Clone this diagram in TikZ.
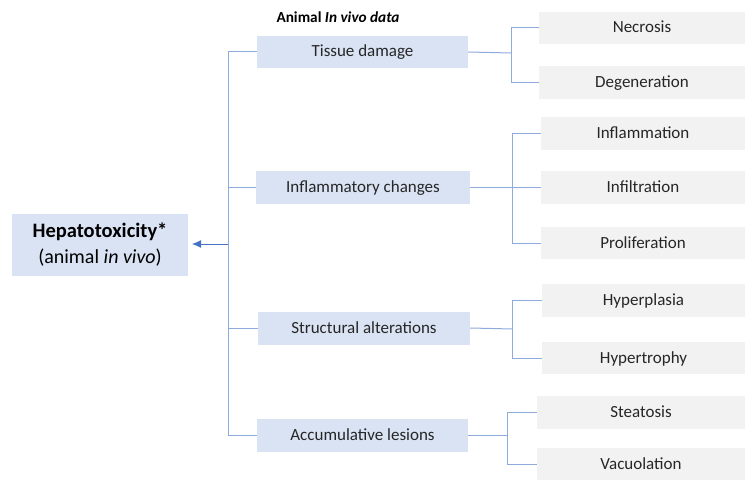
\documentclass[tikz,border=0pt]{standalone}
\usepackage{fontspec}
\setmainfont{Carlito}
\usetikzlibrary{arrows.meta}
\definecolor{bluebox}{HTML}{DAE3F3}
\definecolor{graybox}{HTML}{F2F2F2}
\definecolor{linec}{HTML}{8FAADC}
\definecolor{arrowc}{HTML}{4472C4}
\definecolor{txt}{HTML}{262626}
\begin{document}
\begin{tikzpicture}[x=1pt,y=-1pt,
  catbox/.style={fill=bluebox,draw=none,inner sep=0pt,text=txt,font=\fontsize{17}{20}\selectfont,text height=12pt,text depth=2pt},
  leafbox/.style={fill=graybox,draw=none,inner sep=0pt,text=txt,font=\fontsize{17}{20}\selectfont,text height=12pt,text depth=2pt},
  conn/.style={draw=linec,line width=1pt}]
\useasboundingbox (0,0) rectangle (745,484);
% title
\node[font=\bfseries\fontsize{15.3}{18}\selectfont,anchor=center,text=black] (title) at (338,17) {Animal \textit{In vivo data}};
% main box
\node[fill=bluebox,minimum width=176pt,minimum height=62pt,inner sep=0pt,text=black,align=center,
  font=\fontsize{20}{26}\selectfont] (hep) at (100,245)
  {\raisebox{-2pt}{\bfseries\fontsize{20.5}{26}\selectfont Hepatotoxicity*}\\\raisebox{-2pt}{(animal \textit{in vivo})}};
% category boxes
\node[catbox,minimum width=211pt,minimum height=32pt] (tis) at (362.5,52) {Tissue damage};
\node[catbox,minimum width=214pt,minimum height=33pt] (inf) at (363,187.5) {Inflammatory changes};
\node[catbox,minimum width=212pt,minimum height=33pt] (str) at (364,328) {Structural alterations};
\node[catbox,minimum width=211pt,minimum height=33pt] (acc) at (362.5,435) {Accumulative lesions};
% leaf boxes
\node[leafbox,minimum width=206pt,minimum height=32pt] (nec) at (642,28) {Necrosis};
\node[leafbox,minimum width=206pt,minimum height=33pt] (deg) at (642,82.5) {Degeneration};
\node[leafbox,minimum width=204pt,minimum height=33pt] (infl) at (643,133.5) {Inflammation};
\node[leafbox,minimum width=204pt,minimum height=33pt] (infi) at (643,187.5) {Infiltration};
\node[leafbox,minimum width=204pt,minimum height=32pt] (pro) at (643,243) {Proliferation};
\node[leafbox,minimum width=203pt,minimum height=33pt] (hpl) at (643.5,300.5) {Hyperplasia};
\node[leafbox,minimum width=203pt,minimum height=32pt] (htr) at (643.5,358) {Hypertrophy};
\node[leafbox,minimum width=208pt,minimum height=33pt] (ste) at (641,412.5) {Steatosis};
\node[leafbox,minimum width=208pt,minimum height=32pt] (vac) at (641,464) {Vacuolation};
% main trunk
\coordinate (mt) at (228,52);
\coordinate (mb) at (228,435);
\coordinate (mm) at (228,244);
\coordinate (atip) at (192,244);
\draw[conn] (tis.west) -- (tis.west -| mt) -- (acc.west -| mb) -- (acc.west);
\draw[conn] (inf.west) -- (inf.west -| mt);
\draw[conn] (str.west) -- (str.west -| mt);
\draw[draw=arrowc,line width=1pt,-{Latex[length=9pt,width=8pt]}] (mm) -- (atip);
% tissue damage branch
\coordinate (b1) at (511,53);
\draw[conn] (tis.east) -- (b1);
\draw[conn] (nec.west) -- (nec.west -| b1) -- (deg.west -| b1) -- (deg.west);
% inflammatory branch
\coordinate (b2) at (512,187.5);
\draw[conn] (inf.east) -- (infi.west);
\draw[conn] (infl.west) -- (infl.west -| b2) -- (pro.west -| b2) -- (pro.west);
% structural branch
\coordinate (b3) at (512,329);
\draw[conn] (str.east) -- (b3);
\draw[conn] (hpl.west) -- (hpl.west -| b3) -- (htr.west -| b3) -- (htr.west);
% accumulative branch
\coordinate (b4) at (507,435);
\draw[conn] (acc.east) -- (b4);
\draw[conn] (ste.west) -- (ste.west -| b4) -- (vac.west -| b4) -- (vac.west);
\end{tikzpicture}
\end{document}
